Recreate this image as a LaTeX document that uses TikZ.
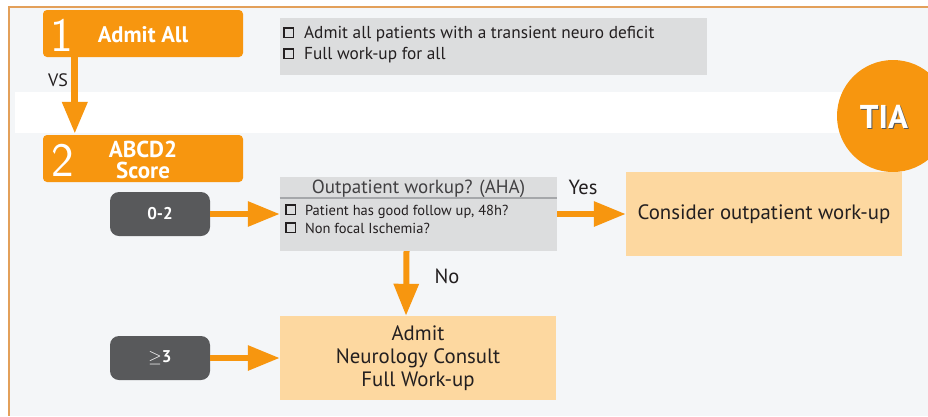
\documentclass[tikz,border=0pt]{standalone}
\usepackage{fontspec}
\setmainfont{PT Sans}
\usetikzlibrary{arrows.meta,calc}

\definecolor{pagebg}{HTML}{F4F6F8}
\definecolor{frameline}{HTML}{E3A05A}
\definecolor{accent}{HTML}{F7960F}
\definecolor{panelgrey}{HTML}{DCDDDE}
\definecolor{rulegrey}{HTML}{A5A7AA}
\definecolor{peach}{HTML}{FDD8A0}
\definecolor{pillgrey}{HTML}{58595B}
\definecolor{ink}{HTML}{231F20}
\definecolor{headink}{HTML}{414042}

% small empty check box used in the lists
\newcommand\chkbox{\tikz[baseline=-0.5pt]\draw[line width=1.4pt,ink] (0pt,0pt) rectangle (9.5pt,9.5pt);}

\tikzset{
  stagebox/.style={fill=accent, rounded corners=4pt, minimum width=200pt,
    minimum height=47pt, inner sep=0pt},
  stagenum/.style={text=white, font=\sffamily\fontsize{48}{48}\selectfont, inner sep=0pt},
  stagetitle/.style={text=white, font=\bfseries\fontsize{22.5}{23}\selectfont,
    align=center, inner sep=0pt},
  scorepill/.style={fill=pillgrey, rounded corners=9pt, minimum width=100pt,
    minimum height=44pt, text=white, font=\bfseries\fontsize{17}{18}\selectfont, inner sep=0pt},
  panel/.style={fill=panelgrey, inner sep=0pt},
  outcome/.style={fill=peach, minimum width=276pt, minimum height=84pt,
    inner sep=0pt, align=center, text=ink},
  listitem/.style={anchor=base west, text=ink, inner sep=0pt},
  flowlabel/.style={text=ink, font=\fontsize{20.5}{21}\selectfont, inner sep=0pt},
  flow/.style={draw=accent, line width=6pt,
    -{Triangle[width=24pt,length=32pt,fill=accent]}},
}

\begin{document}
\begin{tikzpicture}[x=1pt,y=-1pt]
\useasboundingbox (0,0) rectangle (928,416);

% page background, frame and white band
\fill[pagebg] (9,7) rectangle (928,416);
\fill[white] (15,92) rectangle (928,133);
\draw[frameline, line width=1.5pt] (928,7) -- (9,7) -- (9,416);

% TIA badge
\fill[accent] (893,116) circle (56);
\node[text=black!65, font=\bfseries\fontsize{33}{33}\selectfont] at (885,118) {TIA};
\node[text=white, font=\bfseries\fontsize{33}{33}\selectfont] (tia) at (884,117) {TIA};

% stage 1
\node[stagebox] (s1) at (143,33.5) {};
\node[stagenum] (n1) at (62,35) {1};
\node[stagetitle] (t1) at (143,35) {Admit All};

% stage 2
\node[stagebox] (s2) at (143,158.5) {};
\node[stagenum] (n2) at (63,160) {2};
\node[stagetitle, font=\bfseries\fontsize{23}{21}\selectfont] (t2) at (143,160) {ABCD2\\Score};

\draw[flow, line width=7pt] ($(s1.south west)+(32,0)$) -- ($(s2.north west)+(32,-1)$);
\node[flowlabel, font=\fontsize{18}{19}\selectfont] (vs) at (58,80) {VS};

% stage 1 checklist
\node[panel, minimum width=427pt, minimum height=57pt] (p1) at (493.5,46.5) {};
\node[listitem, font=\fontsize{17.3}{18}\selectfont] (p1a) at (283,38)
  {\chkbox\hspace{10pt}Admit all patients with a transient neuro deficit};
\node[listitem, font=\fontsize{17.3}{18}\selectfont] (p1b) at (283,59)
  {\chkbox\hspace{10pt}Full work-up for all};

% outpatient panel
\node[panel, minimum width=277pt, minimum height=74pt] (op) at (418.5,214) {};
\node[text=headink, font=\fontsize{19}{20}\selectfont, inner sep=0pt, anchor=base] (oph) at (418.5,193)
  {Outpatient workup? (AHA)};
\draw[rulegrey, line width=2pt] ($(op.north west)+(0,21)$) -- ($(op.north east)+(0,21)$);
\node[listitem, font=\fontsize{14.5}{15}\selectfont] (opa) at (285,215)
  {\chkbox\hspace{9pt}Patient has good follow up, 48h?};
\node[listitem, font=\fontsize{14.5}{15}\selectfont] (opb) at (285,233)
  {\chkbox\hspace{9pt}Non focal Ischemia?};

% score pills
\node[scorepill] (lo) at (160,214) {0-2};
\node[scorepill] (hi) at (160,358) {$\geq$3};

% outcomes
\node[outcome, font=\fontsize{20.8}{24}\selectfont] (cons) at (764,214) {Consider outpatient work-up};
\node[outcome, font=\fontsize{20.8}{23.3}\selectfont] (adm) at (418,358) {Admit\\Neurology Consult\\Full Work-up};

% connectors
\draw[flow] (lo.east) -- (op.west);
\draw[flow] (op.east) -- (cons.west);
\draw[flow] ($(op.south)+(-12,0)$) -- ($(adm.north)+(-12,0)$);
\draw[flow] (hi.east) -- (adm.west);

\node[flowlabel] (yes) at (583,187) {Yes};
\node[flowlabel] (no) at (447,276) {No};
\end{tikzpicture}
\end{document}
